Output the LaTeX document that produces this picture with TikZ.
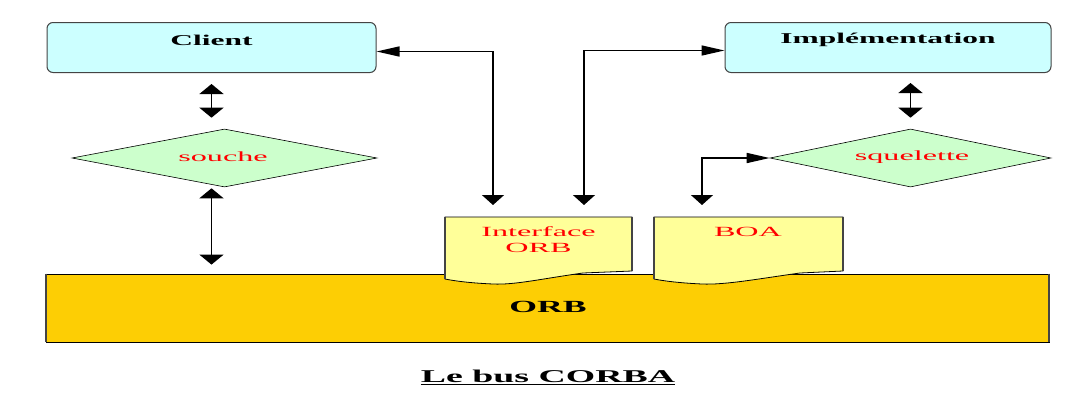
\documentclass[tikz,border=0pt]{standalone}
\usepackage{fontspec}
\setmainfont{Liberation Serif}
\usetikzlibrary{arrows.meta,shapes.geometric,calc}
\definecolor{boxcyan}{HTML}{CCFFFF}
\definecolor{dmgreen}{HTML}{CCFFCC}
\definecolor{docyel}{HTML}{FFFF99}
\definecolor{orbgold}{HTML}{FDCE04}
\definecolor{edgegrey}{HTML}{444444}
\newcommand{\wide}[1]{\scalebox{2.1}[1]{#1}}
\newcommand{\wider}[1]{\scalebox{2.3}[1]{#1}}
\tikzset{
  x=1pt,y=-1pt,
  roundbox/.style={draw=edgegrey,line width=1pt,fill=boxcyan,rounded corners=6pt,inner sep=0pt},
  dmshape/.style={diamond,draw=black,line width=0.6pt,fill=dmgreen,inner sep=0pt,aspect=5.2},
  redtxt/.style={text=red,font=\fontsize{14}{15}\selectfont},
  boldtxt/.style={font=\fontsize{15}{16}\selectfont\bfseries},
  conn/.style={line width=1.5pt},
  vv/.style={conn,{Triangle[length=10pt,width=24pt]}-{Triangle[length=10pt,width=24pt]}},
  hv/.style={conn,{Triangle[length=23pt,width=10pt]}-{Triangle[length=10pt,width=22pt]}},
  docstyle/.style={draw=black,line width=0.8pt,fill=docyel},
}
\begin{document}
\begin{tikzpicture}
\useasboundingbox[fill=white] (0,0) rectangle (1088,397);
% boxes
\node[roundbox,minimum width=329pt,minimum height=50pt] (client) at (211.5,47.5) {};
\node[boldtxt] at (211.5,40) {\wide{Client}};
\node[roundbox,minimum width=326pt,minimum height=50pt] (impl) at (888,47.5) {};
\node[boldtxt] at (888,40) {\wide{Implémentation}};
% diamonds
\node[dmshape,minimum width=305pt,minimum height=58pt] (souche) at (224.5,158) {};
\node[redtxt] at (223,157) {\wider{souche}};
\node[dmshape,minimum width=281pt,minimum height=58pt] (sq) at (910.5,158) {};
\node[redtxt] at (912,157) {\wider{squelette}};
% ORB bar
\node[draw=black,line width=0.8pt,fill=orbgold,minimum width=1003pt,minimum height=68pt,inner sep=0pt] (orb) at (547.5,308) {};
\draw[edgegrey,line width=2pt] (orb.north west) -- (orb.south west);
\draw[edgegrey,line width=2pt] (orb.north east) -- (orb.south east);
\node[font=\fontsize{17}{18}\selectfont\bfseries] at (548,307) {\wide{ORB}};
% documents
\node[minimum width=187pt,minimum height=56pt,inner sep=0pt] (iface) at (538.5,245) {};
\draw[docstyle] (445,217) -- (632,217) -- (632,271) -- (583,273)
  .. controls (540,279) and (515,285) .. (493,284)
  .. controls (470,283) and (455,281) .. (445,279) -- cycle;
\draw[edgegrey,line width=1.6pt] (445,217) -- (445,279);
\draw[edgegrey,line width=1.6pt] (632,217) -- (632,271);
\node[redtxt,align=center,font=\fontsize{14}{16}\selectfont] at (538.5,240) {\wider{Interface}\\\wider{ORB}};
\node[minimum width=189pt,minimum height=56pt,inner sep=0pt] (boa) at (748.5,245) {};
\draw[docstyle] (654,217) -- (843,217) -- (843,271) -- (800,273)
  .. controls (757,279) and (725,285) .. (702,284)
  .. controls (680,283) and (664,281) .. (654,279) -- cycle;
\draw[edgegrey,line width=1.6pt] (654,217) -- (654,279);
\draw[edgegrey,line width=1.6pt] (843,217) -- (843,271);
\node[redtxt] at (748,232) {\wider{BOA}};
% anchor coordinates on the documents
\coordinate (ia) at (493,217);
\coordinate (ib) at (584,217);
\coordinate (ba) at (702,217);
% vertical double arrows
\draw[vv,shorten <=11pt,shorten >=11pt] (client.south) -- (client.south |- souche.north);
\draw[vv,shorten <=1pt,shorten >=9pt] (client.south |- souche.south) -- (client.south |- orb.north);
\draw[vv,shorten <=10pt,shorten >=11pt] (impl.south -| sq.north) -- (sq.north);
% routed connectors
\draw[hv,shorten >=12pt] ([yshift=-4pt]client.east) -| (ia);
\draw[hv,shorten >=12pt] ([yshift=-3pt]impl.west) -| (ib);
\draw[hv,shorten >=12pt] (sq.west) -| (ba);
% caption
\node[font=\fontsize{18}{20}\selectfont\bfseries] (cap) at (548,377) {\wide{\underline{Le bus CORBA}}};
\end{tikzpicture}
\end{document}
